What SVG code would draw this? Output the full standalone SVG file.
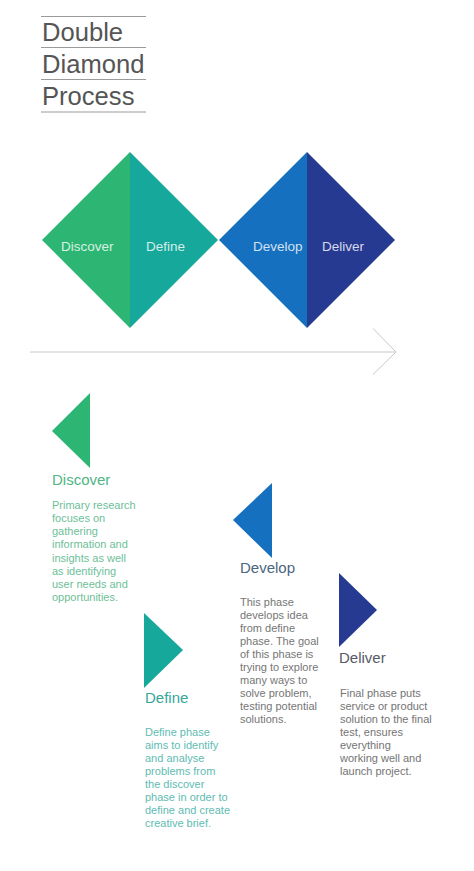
<svg xmlns="http://www.w3.org/2000/svg" width="474" height="871" viewBox="0 0 474 871">
<style>
  text { font-family: "Liberation Sans", Arial, sans-serif; }
  .title { font-size: 25.6px; fill: #555; }
  .rule { stroke: #9a9a9a; stroke-width: 1; }
  .dlabel { font-size: 13.5px; fill: #ffffff; fill-opacity: 0.82; }
  .plabel { font-size: 15px; }
  .body { font-size: 11px; }
  .green { fill: #2db673; }
  .teal { fill: #16a89a; }
  .blue { fill: #1570bf; }
  .navy { fill: #273a92; }
  .conn { stroke: #c8c8c8; stroke-width: 1; fill: none; }
</style>
<rect width="474" height="871" fill="#ffffff"/>

<g id="title">
  <line class="rule" x1="41" y1="16.5" x2="146" y2="16.5"/>
  <line class="rule" x1="41" y1="47.5" x2="146" y2="47.5"/>
  <line class="rule" x1="41" y1="79.5" x2="146" y2="79.5"/>
  <line class="rule" x1="41" y1="112" x2="146" y2="112"/>
  <text class="title" x="42" y="41">Double</text>
  <text class="title" x="42" y="72.5">Diamond</text>
  <text class="title" x="42" y="104.5">Process</text>
</g>

<g id="diamond-discover">
  <polygon class="green" points="42,240 130,152 130,328"/>
  <text class="dlabel" x="61" y="251">Discover</text>
</g>
<g id="diamond-define">
  <polygon class="teal" points="130,152 218,240 130,328"/>
  <text class="dlabel" x="146" y="251">Define</text>
</g>
<g id="diamond-develop">
  <polygon class="blue" points="219,240 307,152 307,328"/>
  <text class="dlabel" x="253" y="251">Develop</text>
</g>
<g id="diamond-deliver">
  <polygon class="navy" points="307,152 395,240 307,328"/>
  <text class="dlabel" x="322" y="251">Deliver</text>
</g>

<g id="connectors">
  <line class="conn" x1="30" y1="352" x2="396" y2="352"/>
  <polyline class="conn" points="373,328.5 396,352 373,374.5"/>
</g>

<g id="phase-discover">
  <polygon class="green" points="52,431 90,393 90,468"/>
  <text class="plabel" x="52" y="485" fill="#4fb585">Discover</text>
  <text class="body" fill="#6dc098">
    <tspan x="52" y="509">Primary research</tspan>
    <tspan x="52" y="522.1">focuses on</tspan>
    <tspan x="52" y="535.3">gathering</tspan>
    <tspan x="52" y="548.4">information and</tspan>
    <tspan x="52" y="561.6">insights as well</tspan>
    <tspan x="52" y="574.7">as identifying</tspan>
    <tspan x="52" y="587.9">user needs and</tspan>
    <tspan x="52" y="601">opportunities.</tspan>
  </text>
</g>

<g id="phase-define">
  <polygon class="teal" points="144,613 183,650 144,688"/>
  <text class="plabel" x="145" y="703" fill="#35a69a">Define</text>
  <text class="body" fill="#60bcb2">
    <tspan x="145" y="736">Define phase</tspan>
    <tspan x="145" y="749">aims to identify</tspan>
    <tspan x="145" y="762">and analyse</tspan>
    <tspan x="145" y="775">problems from</tspan>
    <tspan x="145" y="788">the discover</tspan>
    <tspan x="145" y="801">phase in order to</tspan>
    <tspan x="145" y="814">define and create</tspan>
    <tspan x="145" y="827">creative brief.</tspan>
  </text>
</g>

<g id="phase-develop">
  <polygon class="blue" points="233,520 272,483 272,558"/>
  <text class="plabel" x="240" y="573" fill="#4c6580">Develop</text>
  <text class="body" fill="#767676">
    <tspan x="240" y="606">This phase</tspan>
    <tspan x="240" y="619">develops idea</tspan>
    <tspan x="240" y="632">from define</tspan>
    <tspan x="240" y="645">phase. The goal</tspan>
    <tspan x="240" y="658">of this phase is</tspan>
    <tspan x="240" y="671">trying to explore</tspan>
    <tspan x="240" y="684">many ways to</tspan>
    <tspan x="240" y="697">solve problem,</tspan>
    <tspan x="240" y="710">testing potential</tspan>
    <tspan x="240" y="723">solutions.</tspan>
  </text>
</g>

<g id="phase-deliver">
  <polygon class="navy" points="339,573 377,610 339,647"/>
  <text class="plabel" x="339" y="663" fill="#555a66">Deliver</text>
  <text class="body" fill="#747474">
    <tspan x="340" y="697">Final phase puts</tspan>
    <tspan x="340" y="710">service or product</tspan>
    <tspan x="340" y="723">solution to the final</tspan>
    <tspan x="340" y="736">test, ensures</tspan>
    <tspan x="340" y="749">everything</tspan>
    <tspan x="340" y="762">working well and</tspan>
    <tspan x="340" y="775">launch project.</tspan>
  </text>
</g>
</svg>
